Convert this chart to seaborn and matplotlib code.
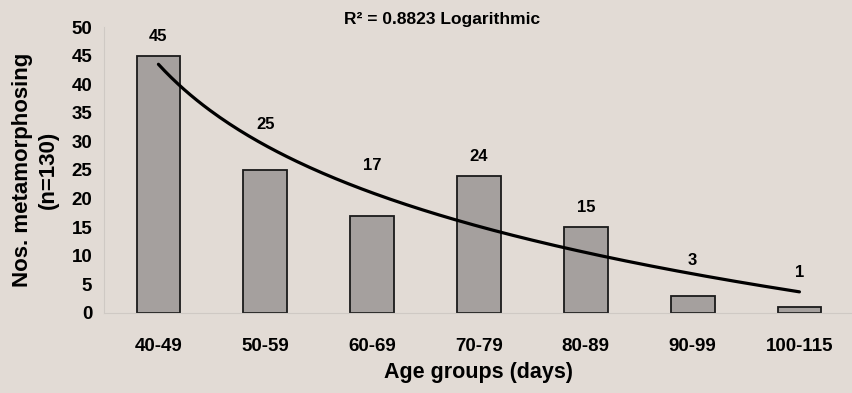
import numpy as np
import pandas as pd
import matplotlib.pyplot as plt
import seaborn as sns

age_groups = ["40-49", "50-59", "60-69", "70-79", "80-89", "90-99", "100-115"]
counts = [45, 25, 17, 24, 15, 3, 1]
label_y = [48.4, 32.9, 25.7, 27.3, 18.5, 9.1, 7.0]  # where the value labels sit
r2_text = "R² = 0.8823 Logarithmic"

df = pd.DataFrame({"age": age_groups, "n": counts})

bg = "#e2dbd5"
sns.set_style("white")
plt.rcParams["font.family"] = ["Liberation Sans", "DejaVu Sans"]
plt.rcParams["font.weight"] = "bold"
plt.rcParams["text.color"] = "black"

fig = plt.figure(figsize=(8.52, 3.93), dpi=100, facecolor=bg)
ax = fig.add_axes([0.122, 0.204, 0.879, 0.727])
ax.set_facecolor(bg)

sns.barplot(data=df, x="age", y="n", color="#a5a09e", edgecolor="#1a1a1a",
            linewidth=1.3, width=0.41, saturation=1, ax=ax)

# logarithmic trend line
xs = np.arange(1, len(counts) + 1)
a, b = np.polyfit(np.log(xs), counts, 1)
xx = np.linspace(1, len(counts), 200)
ax.plot(xx - 1, a * np.log(xx) + b, color="black", lw=2.3)

for i, (v, ly) in enumerate(zip(counts, label_y)):
    ax.text(i, ly, str(v), ha="center", va="center", fontsize=12, fontweight="bold")

ax.text(0.519, 0.95, r2_text, transform=fig.transFigure, ha="center", va="center",
        fontsize=12.5, fontweight="bold")

ax.set_xlim(-0.51, 6.5)
ax.set_ylim(0, 50)
ax.set_yticks(range(0, 51, 5))
ax.set_ylabel("Nos. metamorphosing\n(n=130)", fontsize=16, fontweight="bold",
              labelpad=9, linespacing=1.3, color="black")
ax.set_xlabel("Age groups (days)", fontsize=15.5, fontweight="bold", labelpad=5, color="black")
ax.tick_params(axis="both", labelsize=13.5, colors="#c8c2bd", labelcolor="black", length=5)
ax.tick_params(axis="x", length=0, pad=18)
ax.set_xticks(np.arange(-0.5, 6.6, 1), minor=True)
ax.tick_params(axis="x", which="minor", length=3, color="#c8c2bd", direction="in")
plt.setp(ax.get_xticklabels(), fontweight="bold")
plt.setp(ax.get_yticklabels(), fontweight="bold")

sns.despine(ax=ax, top=True, right=True)
ax.spines["left"].set_color("#cfc9c4")
ax.spines["bottom"].set_color("#cfc9c4")

fig.savefig("out.png", dpi=100, facecolor=bg)
